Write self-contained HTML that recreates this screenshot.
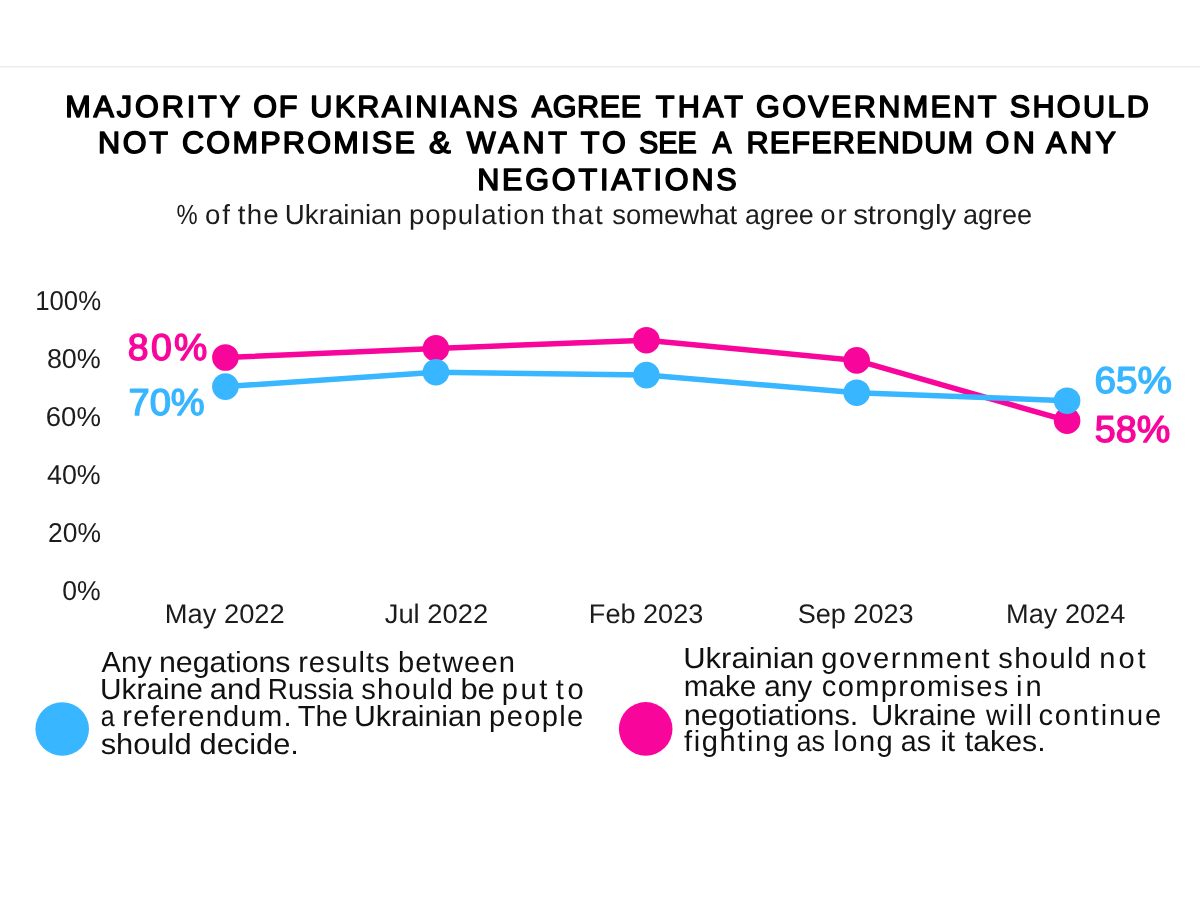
<!DOCTYPE html>
<html><head><meta charset="utf-8">
<style>
html,body{margin:0;padding:0;background:#fff;width:1200px;height:900px;overflow:hidden}
svg{display:block;will-change:transform}
text{font-family:"Liberation Sans",sans-serif;text-rendering:geometricPrecision}
.t{fill:#000;stroke:#000;stroke-width:1.5px;stroke-linejoin:round}
.s{fill:#1c1c1c}
.ax{fill:#1c1c1c}
.dl{stroke-width:1.4px;stroke-linejoin:round}
.lg{fill:#111}
</style></head><body>
<svg width="1200" height="900" viewBox="0 0 1200 900">
<rect x="0" y="0" width="1200" height="900" fill="#fff"/>
<rect x="0" y="66" width="1200" height="1" fill="#ececec"/><rect x="0" y="67" width="1200" height="1" fill="#f7f7f7"/>
<text class="t" x="65.19" y="117.25" font-size="30.63" textLength="174.89" lengthAdjust="spacing">MAJORITY</text>
<text class="t" x="253.35" y="117.25" font-size="30.63" textLength="44.09" lengthAdjust="spacing">OF</text>
<text class="t" x="310.31" y="117.25" font-size="30.63" textLength="207.45" lengthAdjust="spacing">UKRAINIANS</text>
<text class="t" x="531.79" y="117.25" font-size="30.63" textLength="109.38" lengthAdjust="spacing">AGREE</text>
<text class="t" x="655.73" y="117.25" font-size="30.63" textLength="87.27" lengthAdjust="spacing">THAT</text>
<text class="t" x="755.97" y="117.25" font-size="30.63" textLength="240.57" lengthAdjust="spacing">GOVERNMENT</text>
<text class="t" x="1009.72" y="117.25" font-size="30.63" textLength="139.14" lengthAdjust="spacing">SHOULD</text>
<text class="t" x="97.92" y="153.25" font-size="30.63" textLength="70.12" lengthAdjust="spacing">NOT</text>
<text class="t" x="181.96" y="153.25" font-size="30.63" textLength="232.95" lengthAdjust="spacing">COMPROMISE</text>
<text class="t" x="428.9" y="153.25" font-size="30.63" textLength="21.73" lengthAdjust="spacingAndGlyphs">&amp;</text>
<text class="t" x="466.67" y="153.25" font-size="30.63" textLength="100.33" lengthAdjust="spacing">WANT</text>
<text class="t" x="580.75" y="153.25" font-size="30.63" textLength="45.04" lengthAdjust="spacing">TO</text>
<text class="t" x="639.0" y="153.25" font-size="30.63" textLength="57.75" lengthAdjust="spacingAndGlyphs">SEE</text>
<text class="t" x="712.5" y="153.25" font-size="30.63" textLength="19.06" lengthAdjust="spacingAndGlyphs">A</text>
<text class="t" x="746.42" y="153.25" font-size="30.63" textLength="226.7" lengthAdjust="spacing">REFERENDUM</text>
<text class="t" x="985.54" y="153.25" font-size="30.63" textLength="49.4" lengthAdjust="spacing">ON</text>
<text class="t" x="1046.1" y="153.25" font-size="30.63" textLength="69.96" lengthAdjust="spacing">ANY</text>
<text class="t" x="477.19" y="190.05" font-size="30.63" textLength="259.55" lengthAdjust="spacing">NEGOTIATIONS</text>
<text class="s" x="176.54" y="224.0" font-size="27.64" textLength="21.17" lengthAdjust="spacingAndGlyphs">%</text>
<text class="s" x="205.07" y="224.0" font-size="27.64" textLength="24.89" lengthAdjust="spacing">of</text>
<text class="s" x="237.76" y="224.0" font-size="27.64" textLength="40.94" lengthAdjust="spacing">the</text>
<text class="s" x="284.78" y="224.0" font-size="27.64" textLength="117.15" lengthAdjust="spacingAndGlyphs">Ukrainian</text>
<text class="s" x="408.89" y="224.0" font-size="27.64" textLength="135.96" lengthAdjust="spacing">population</text>
<text class="s" x="551.76" y="224.0" font-size="27.64" textLength="50.91" lengthAdjust="spacing">that</text>
<text class="s" x="612.29" y="224.0" font-size="27.64" textLength="124.93" lengthAdjust="spacingAndGlyphs">somewhat</text>
<text class="s" x="745.1" y="224.0" font-size="27.64" textLength="68.72" lengthAdjust="spacingAndGlyphs">agree</text>
<text class="s" x="820.36" y="224.0" font-size="27.64" textLength="26.34" lengthAdjust="spacing">or</text>
<text class="s" x="853.16" y="224.0" font-size="27.64" textLength="103.03" lengthAdjust="spacingAndGlyphs">strongly</text>
<text class="s" x="962.89" y="224.0" font-size="27.64" textLength="69.09" lengthAdjust="spacingAndGlyphs">agree</text>
<text class="ax" x="35.2" y="309.7" font-size="27.37" textLength="65.85" lengthAdjust="spacingAndGlyphs">100%</text>
<text class="ax" x="46.89" y="367.8" font-size="27.37" textLength="53.97" lengthAdjust="spacingAndGlyphs">80%</text>
<text class="ax" x="45.78" y="426.1" font-size="27.37" textLength="55.15" lengthAdjust="spacingAndGlyphs">60%</text>
<text class="ax" x="47.04" y="483.9" font-size="27.37" textLength="53.69" lengthAdjust="spacingAndGlyphs">40%</text>
<text class="ax" x="47.99" y="542.2" font-size="27.37" textLength="52.92" lengthAdjust="spacingAndGlyphs">20%</text>
<text class="ax" x="62.26" y="600.0" font-size="27.37" textLength="38.44" lengthAdjust="spacingAndGlyphs">0%</text>
<text class="ax" x="164.81" y="622.8" font-size="26.87" textLength="119.92" lengthAdjust="spacingAndGlyphs">May 2022</text>
<text class="ax" x="384.71" y="622.8" font-size="26.87" textLength="103.44" lengthAdjust="spacingAndGlyphs">Jul 2022</text>
<text class="ax" x="588.89" y="622.8" font-size="26.87" textLength="114.4" lengthAdjust="spacingAndGlyphs">Feb 2023</text>
<text class="ax" x="797.65" y="622.8" font-size="26.87" textLength="115.95" lengthAdjust="spacingAndGlyphs">Sep 2023</text>
<text class="ax" x="1006.12" y="622.8" font-size="26.87" textLength="119.19" lengthAdjust="spacingAndGlyphs">May 2024</text>
<polyline points="225.4,357.5 435.9,348.4 646.4,340.2 856.7,360.4 1067.1,420.7" fill="none" stroke="#f8069b" stroke-width="5.5" stroke-linejoin="round"/>
<circle cx="225.4" cy="357.5" r="13.3" fill="#f8069b"/><circle cx="435.9" cy="348.4" r="13.3" fill="#f8069b"/><circle cx="646.4" cy="340.2" r="13.3" fill="#f8069b"/><circle cx="856.7" cy="360.4" r="13.3" fill="#f8069b"/><circle cx="1067.1" cy="420.7" r="13.3" fill="#f8069b"/>
<polyline points="225.4,386.6 435.9,372.2 646.4,375.1 856.7,392.7 1067.1,400.7" fill="none" stroke="#38b6ff" stroke-width="5.5" stroke-linejoin="round"/>
<circle cx="225.4" cy="386.6" r="13.3" fill="#38b6ff"/><circle cx="435.9" cy="372.2" r="13.3" fill="#38b6ff"/><circle cx="646.4" cy="375.1" r="13.3" fill="#38b6ff"/><circle cx="856.7" cy="392.7" r="13.3" fill="#38b6ff"/><circle cx="1067.1" cy="400.7" r="13.3" fill="#38b6ff"/>

<text class="dl" x="127.85" y="360.4" font-size="37.41" textLength="79.53" lengthAdjust="spacing" fill="#f8069b" stroke="#f8069b">80%</text>
<text class="dl" x="128.56" y="414.9" font-size="37.41" textLength="76.16" lengthAdjust="spacingAndGlyphs" fill="#38b6ff" stroke="#38b6ff">70%</text>
<text class="dl" x="1094.45" y="393.2" font-size="37.41" textLength="77.48" lengthAdjust="spacingAndGlyphs" fill="#38b6ff" stroke="#38b6ff">65%</text>
<text class="dl" x="1094.72" y="442.1" font-size="37.41" textLength="75.47" lengthAdjust="spacingAndGlyphs" fill="#f8069b" stroke="#f8069b">58%</text>
<circle cx="62.2" cy="729" r="26.8" fill="#38b6ff"/>
<circle cx="645.7" cy="728.9" r="26.8" fill="#f8069b"/>
<text class="lg" x="101.51" y="671.7" font-size="29.1" textLength="50.21" lengthAdjust="spacingAndGlyphs">Any</text>
<text class="lg" x="159.01" y="671.7" font-size="29.1" textLength="131.55" lengthAdjust="spacingAndGlyphs">negations</text>
<text class="lg" x="298.14" y="671.7" font-size="29.1" textLength="91.48" lengthAdjust="spacing">results</text>
<text class="lg" x="397.88" y="671.7" font-size="29.1" textLength="117.13" lengthAdjust="spacing">between</text>
<text class="lg" x="100.09" y="699.0" font-size="29.1" textLength="102.8" lengthAdjust="spacingAndGlyphs">Ukraine</text>
<text class="lg" x="209.83" y="699.0" font-size="29.1" textLength="51.46" lengthAdjust="spacingAndGlyphs">and</text>
<text class="lg" x="267.82" y="699.0" font-size="29.1" textLength="85.35" lengthAdjust="spacingAndGlyphs">Russia</text>
<text class="lg" x="361.34" y="699.0" font-size="29.1" textLength="91.72" lengthAdjust="spacing">should</text>
<text class="lg" x="460.41" y="699.0" font-size="29.1" textLength="34.44" lengthAdjust="spacingAndGlyphs">be</text>
<text class="lg" x="501.85" y="699.0" font-size="29.1" textLength="45.56" lengthAdjust="spacing">put</text>
<text class="lg" x="555.7" y="699.0" font-size="29.1" textLength="28.1" lengthAdjust="spacing">to</text>
<text class="lg" x="100.66" y="726.3" font-size="29.1" textLength="13.87" lengthAdjust="spacingAndGlyphs">a</text>
<text class="lg" x="122.31" y="726.3" font-size="29.1" textLength="169.2" lengthAdjust="spacing">referendum.</text>
<text class="lg" x="297.86" y="726.3" font-size="29.1" textLength="50.07" lengthAdjust="spacingAndGlyphs">The</text>
<text class="lg" x="353.91" y="726.3" font-size="29.1" textLength="127.87" lengthAdjust="spacingAndGlyphs">Ukrainian</text>
<text class="lg" x="489.09" y="726.3" font-size="29.1" textLength="94.2" lengthAdjust="spacing">people</text>
<text class="lg" x="100.65" y="753.5" font-size="29.1" textLength="90.98" lengthAdjust="spacingAndGlyphs">should</text>
<text class="lg" x="199.55" y="753.5" font-size="29.1" textLength="99.36" lengthAdjust="spacingAndGlyphs">decide.</text>
<text class="lg" x="683.24" y="668.0" font-size="29.1" textLength="130.95" lengthAdjust="spacingAndGlyphs">Ukrainian</text>
<text class="lg" x="821.22" y="668.0" font-size="29.1" textLength="168.36" lengthAdjust="spacing">government</text>
<text class="lg" x="998.34" y="668.0" font-size="29.1" textLength="92.72" lengthAdjust="spacing">should</text>
<text class="lg" x="1099.25" y="668.0" font-size="29.1" textLength="46.46" lengthAdjust="spacing">not</text>
<text class="lg" x="683.75" y="696.0" font-size="29.1" textLength="72.62" lengthAdjust="spacingAndGlyphs">make</text>
<text class="lg" x="764.22" y="696.0" font-size="29.1" textLength="48.06" lengthAdjust="spacingAndGlyphs">any</text>
<text class="lg" x="821.85" y="696.0" font-size="29.1" textLength="186.42" lengthAdjust="spacing">compromises</text>
<text class="lg" x="1015.98" y="696.0" font-size="29.1" textLength="25.72" lengthAdjust="spacing">in</text>
<text class="lg" x="683.67" y="724.7" font-size="29.1" textLength="174.72" lengthAdjust="spacingAndGlyphs">negotiations.</text>
<text class="lg" x="871.39" y="724.7" font-size="29.1" textLength="104.95" lengthAdjust="spacingAndGlyphs">Ukraine</text>
<text class="lg" x="986.01" y="724.7" font-size="29.1" textLength="45.84" lengthAdjust="spacing">will</text>
<text class="lg" x="1038.4" y="724.7" font-size="29.1" textLength="122.83" lengthAdjust="spacing">continue</text>
<text class="lg" x="684.1" y="751.3" font-size="29.1" textLength="104.95" lengthAdjust="spacing">fighting</text>
<text class="lg" x="796.55" y="751.3" font-size="29.1" textLength="28.48" lengthAdjust="spacingAndGlyphs">as</text>
<text class="lg" x="833.34" y="751.3" font-size="29.1" textLength="59.45" lengthAdjust="spacing">long</text>
<text class="lg" x="900.77" y="751.3" font-size="29.1" textLength="30.16" lengthAdjust="spacingAndGlyphs">as</text>
<text class="lg" x="940.45" y="751.3" font-size="29.1">it</text>
<text class="lg" x="964.89" y="751.3" font-size="29.1" textLength="80.72" lengthAdjust="spacingAndGlyphs">takes.</text>
</svg>
</body></html>
